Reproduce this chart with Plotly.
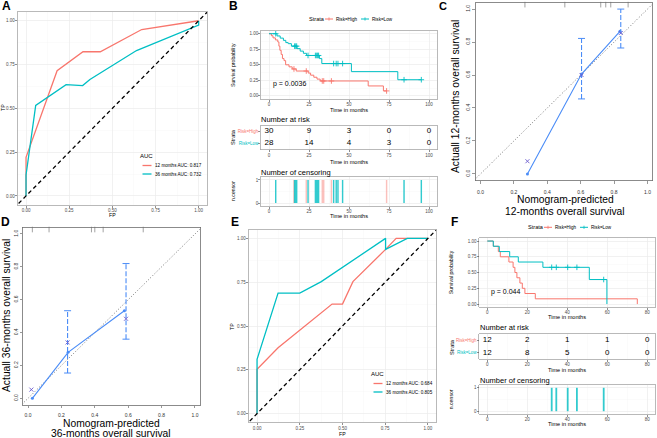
import plotly.graph_objects as go

W, H = 657, 438
FONT = "Liberation Sans"
RED, CYAN = "#F8766D", "#00BFC4"
BLUE, XMARK = "#4A8CF7", "#6A5ACD"

# ---------------- DATA ----------------
# Panel A: ROC (training)
a_fp_12 = [0, 0, 0.18, 0.33, 0.43, 0.67, 1.0]
a_tp_12 = [0, 0.22, 0.715, 0.823, 0.823, 0.95, 1.0]
a_fp_36 = [0, 0, 0.056, 0.232, 0.328, 0.37, 0.64, 1.0, 1.0]
a_tp_36 = [0, 0.12, 0.517, 0.635, 0.63, 0.665, 0.83, 0.975, 1.0]
a_labels = ["12 months AUC: 0.817", "36 months AUC: 0.732"]

# Panel E: ROC (validation)
e_fp_12 = [0, 0, 0.123, 0.439, 0.5, 0.561, 0.752, 0.814, 1.0]
e_tp_12 = [0, 0.253, 0.376, 0.625, 0.625, 0.753, 0.937, 1.0, 1.0]
e_fp_36 = [0, 0, 0.123, 0.25, 0.376, 0.752, 0.752, 0.879, 1.0]
e_tp_36 = [0, 0.31, 0.688, 0.688, 0.753, 1.0, 0.937, 1.0, 1.0]
e_labels = ["12 months AUC: 0.684", "36 months AUC: 0.805"]

# Panel B: Kaplan-Meier (training)
b_high_t = [0, 1.5, 2.5, 4, 5.5, 6.2, 6.8, 7.6, 8.4, 9.4, 10.4, 12.5, 14.5, 17, 24.5, 26, 28, 30, 32, 62, 71.5, 73.5]
b_high_s = [1.0, 0.967, 0.933, 0.90, 0.867, 0.80, 0.733, 0.667, 0.60, 0.567, 0.50, 0.467, 0.433, 0.40, 0.367, 0.333, 0.30, 0.27, 0.24, 0.16, 0.08, 0.08]
b_low_t = [0, 5, 7, 9, 10.5, 12, 14, 17.5, 19.5, 21.5, 23.5, 31.5, 33, 51.5, 80.5, 95.2]
b_low_s = [1.0, 0.964, 0.929, 0.893, 0.857, 0.84, 0.80, 0.76, 0.72, 0.685, 0.65, 0.60, 0.52, 0.39, 0.26, 0.26]
b_high_cens = [15.6, 23.3, 33.3, 34.2, 39.0, 73.5]
b_low_cens = [4.2, 16.0, 16.7, 17.3, 24.4, 29.0, 29.8, 30.4, 31.0, 40.4, 42.0, 43.1, 46.0, 84.4, 95.2]
b_risk_times = [0, 25, 50, 75, 100]
b_risk_high = [30, 9, 3, 0, 0]
b_risk_low = [28, 14, 4, 3, 0]
b_pval = "p = 0.0036"

# Panel F: Kaplan-Meier (validation)
f_high_t = [0, 3.0, 5.5, 6.5, 10.8, 12.9, 13.8, 14.8, 16.3, 17.5, 18.8, 24.0, 75.0]
f_high_s = [1.0, 0.917, 0.833, 0.75, 0.667, 0.583, 0.5, 0.417, 0.333, 0.25, 0.167, 0.083, 0.0]
f_low_t = [0, 3.0, 6.0, 11.2, 15.5, 27.8, 51.0, 59.8]
f_low_s = [1.0, 0.917, 0.833, 0.75, 0.667, 0.583, 0.389, 0.0]
f_high_cens = []
f_low_cens = [32.2, 34.5, 40.2, 44.8, 58.2]
f_risk_times = [0, 20, 40, 60, 80]
f_risk_high = [12, 2, 1, 1, 0]
f_risk_low = [12, 8, 5, 0, 0]
f_pval = "p = 0.044"

# Panel C: calibration 12 months
c_pred = [0.281, 0.605, 0.835]
c_obs = [0.0, 0.606, 0.865]
c_err_x = [0.605, 0.84]
c_err_lo = [0.455, 0.764]
c_err_hi = [0.822, 1.0]
c_bc_x = [0.281, 0.605, 0.84]
c_bc_y = [0.077, 0.60, 0.855]
c_rug = [0.266, 0.505, 0.72, 0.75, 0.78, 0.884]

# Panel D: calibration 36 months
d_pred = [0.026, 0.24, 0.577]
d_obs = [0.0, 0.28, 0.533]
d_err_x = [0.237, 0.587]
d_err_lo = [0.154, 0.36]
d_err_hi = [0.533, 0.82]
d_bc_x = [0.02, 0.237, 0.587]
d_bc_y = [0.053, 0.34, 0.484]
d_rug = [0.026, 0.126, 0.38, 0.40, 0.45, 0.69]


def surv_at(t, times, surv):
    s = surv[0]
    for ti, si in zip(times, surv):
        if ti <= t:
            s = si
    return s


def dx(l, r):
    return [l / W, r / W]


def dy(t, b):
    return [1 - b / H, 1 - t / H]


def gg_axis(dom, rng, vals, texts, anchor, minor=None, grid=True, **kw):
    d = dict(domain=dom, range=rng, tickmode="array", tickvals=vals, ticktext=texts,
             showline=True, mirror=True, linecolor="#A8A8A8", linewidth=0.8,
             ticks="outside", ticklen=2, tickwidth=0.6, tickcolor="#444444",
             tickfont=dict(family=FONT, size=4.5, color="#4D4D4D"),
             showgrid=grid, gridcolor="#EBEBEB", gridwidth=0.6, zeroline=False,
             anchor=anchor, fixedrange=True, ticklabelstandoff=-1)
    if minor:
        d["minor"] = dict(tickmode="linear", tick0=0, dtick=minor, showgrid=True,
                          gridcolor="#F5F5F5", gridwidth=0.4, ticks="")
    d.update(kw)
    return d


def base_axis(dom, rng, vals, texts, anchor, **kw):
    d = dict(domain=dom, range=rng, tickmode="array", tickvals=vals, ticktext=texts,
             showline=True, mirror=True, linecolor="#6E6E6E", linewidth=0.8,
             ticks="outside", ticklen=2.5, tickwidth=0.6, tickcolor="#555555",
             tickfont=dict(family=FONT, size=5, color="#333333"),
             showgrid=False, zeroline=False, anchor=anchor, fixedrange=True)
    d.update(kw)
    return d


fig = go.Figure()
ann = []
shapes = []


def txt(x, y, s, size, color="#000000", xanchor="center", angle=0, bold=False):
    if bold:
        s = "<b>" + s + "</b>"
    ann.append(dict(x=x / W, y=1 - y / H, xref="paper", yref="paper", text=s,
                    showarrow=False, font=dict(size=size, color=color, family=FONT),
                    xanchor=xanchor, yanchor="middle", textangle=angle, borderpad=0))


def seg(x0, x1, y0, y1, color, w=1.0):
    shapes.append(dict(type="line", xref="paper", yref="paper", x0=x0 / W, x1=x1 / W,
                       y0=1 - y0 / H, y1=1 - y1 / H, line=dict(color=color, width=w)))


# ---------- ROC panels ----------
def roc(ax, fp12, tp12, fp36, tp36):
    xa, ya = ("x", "y") if ax == 1 else ("x%d" % ax, "y%d" % ax)
    fig.add_trace(go.Scatter(x=fp12, y=tp12, mode="lines", line=dict(color=RED, width=1.3),
                             xaxis=xa, yaxis=ya, showlegend=False, hoverinfo="skip"))
    fig.add_trace(go.Scatter(x=fp36, y=tp36, mode="lines", line=dict(color=CYAN, width=1.3),
                             xaxis=xa, yaxis=ya, showlegend=False, hoverinfo="skip"))
    fig.add_trace(go.Scatter(x=[-0.1, 1.1], y=[-0.1, 1.1], mode="lines",
                             line=dict(color="black", width=1.3, dash="4px,3px"),
                             xaxis=xa, yaxis=ya, showlegend=False, hoverinfo="skip"))


roc(1, a_fp_12, a_tp_12, a_fp_36, a_tp_36)
roc(7, e_fp_12, e_tp_12, e_fp_36, e_tp_36)

# ---------- KM panels ----------
def km(ax, ht, hs, lt, ls, hc, lc):
    xa, ya = "x%d" % ax, "y%d" % ax
    for t, s, c, col in ((ht, hs, hc, RED), (lt, ls, lc, CYAN)):
        fig.add_trace(go.Scatter(x=t, y=s, mode="lines", line=dict(color=col, width=1.0, shape="hv"),
                                 xaxis=xa, yaxis=ya, showlegend=False, hoverinfo="skip"))
        if c:
            fig.add_trace(go.Scatter(x=c, y=[surv_at(v, t, s) for v in c], mode="markers",
                                     marker=dict(symbol="cross-thin", size=4, line=dict(color=col, width=0.9)),
                                     xaxis=xa, yaxis=ya, showlegend=False, hoverinfo="skip"))


def risk(ax, times, high, low):
    xa, ya = "x%d" % ax, "y%d" % ax
    fig.add_trace(go.Scatter(x=times + times, y=[2] * len(times) + [1] * len(times),
                             text=[str(v) for v in high + low], mode="text",
                             textfont=dict(family=FONT, size=8, color="black"),
                             xaxis=xa, yaxis=ya, showlegend=False, hoverinfo="skip", cliponaxis=False))


def cens(ax, hc, lc, width):
    xa, ya = "x%d" % ax, "y%d" % ax
    if hc:
        fig.add_trace(go.Bar(x=hc, y=[1] * len(hc), width=width, marker=dict(color=RED, line=dict(width=0)),
                             opacity=0.45, xaxis=xa, yaxis=ya, showlegend=False, hoverinfo="skip"))
    if lc:
        fig.add_trace(go.Bar(x=lc, y=[1] * len(lc), width=width, marker=dict(color=CYAN, line=dict(width=0)),
                             opacity=0.8, xaxis=xa, yaxis=ya, showlegend=False, hoverinfo="skip"))


km(2, b_high_t, b_high_s, b_low_t, b_low_s, b_high_cens, b_low_cens)
risk(3, b_risk_times, b_risk_high, b_risk_low)
cens(4, b_high_cens, b_low_cens, 0.9)
km(8, f_high_t, f_high_s, f_low_t, f_low_s, f_high_cens, f_low_cens)
risk(9, f_risk_times, f_risk_high, f_risk_low)
cens(10, f_high_cens, f_low_cens, 0.9)

# ---------- calibration panels ----------
def calib(ax, pred, obs, ex, elo, ehi, bx, by, rug):
    xa, ya = "x%d" % ax, "y%d" % ax
    fig.add_trace(go.Scatter(x=[-0.1, 1.1], y=[-0.1, 1.1], mode="lines",
                             line=dict(color="#555555", width=0.8, dash="1px,2px"),
                             xaxis=xa, yaxis=ya, showlegend=False, hoverinfo="skip"))
    ex_l, ey_l = [], []
    for x, lo, hi in zip(ex, elo, ehi):
        ex_l += [x, x, None]
        ey_l += [lo, hi, None]
    fig.add_trace(go.Scatter(x=ex_l, y=ey_l, mode="lines",
                             line=dict(color=BLUE, width=1.1, dash="5px,2px"),
                             xaxis=xa, yaxis=ya, showlegend=False, hoverinfo="skip"))
    fig.add_trace(go.Scatter(x=ex + ex, y=elo + ehi, mode="markers",
                             marker=dict(symbol="line-ew", size=5, line=dict(color=BLUE, width=1)),
                             xaxis=xa, yaxis=ya, showlegend=False, hoverinfo="skip", cliponaxis=False))
    fig.add_trace(go.Scatter(x=pred, y=obs, mode="lines+markers",
                             line=dict(color=BLUE, width=1.1), marker=dict(size=3, color=BLUE),
                             xaxis=xa, yaxis=ya, showlegend=False, hoverinfo="skip", cliponaxis=False))
    fig.add_trace(go.Scatter(x=bx, y=by, mode="markers",
                             marker=dict(symbol="x-thin", size=4, line=dict(color=XMARK, width=0.9)),
                             xaxis=xa, yaxis=ya, showlegend=False, hoverinfo="skip", cliponaxis=False))
    fig.add_trace(go.Scatter(x=rug, y=[1.027] * len(rug), mode="markers",
                             marker=dict(symbol="line-ns", size=4, line=dict(color="#8A8A8A", width=0.8)),
                             xaxis=xa, yaxis=ya, showlegend=False, hoverinfo="skip", cliponaxis=False))


calib(5, c_pred, c_obs, c_err_x, c_err_lo, c_err_hi, c_bc_x, c_bc_y, c_rug)
calib(6, d_pred, d_obs, d_err_x, d_err_lo, d_err_hi, d_bc_x, d_bc_y, d_rug)

# ---------- axes ----------
roc_vals = [0, 0.25, 0.5, 0.75, 1.0]
roc_txt = ["0.00", "0.25", "0.50", "0.75", "1.00"]
cal_vals = [0, 0.2, 0.4, 0.6, 0.8, 1.0]
cal_txt = ["0.0", "0.2", "0.4", "0.6", "0.8", "1.0"]
lay = {}
# A
lay["xaxis"] = gg_axis(dx(17.4, 207.3), [-0.05, 1.05], roc_vals, roc_txt, "y", minor=0.125)
lay["yaxis"] = gg_axis(dy(12, 204.7), [-0.05, 1.05], roc_vals, roc_txt, "x", minor=0.125)
# E
lay["xaxis7"] = gg_axis(dx(248.5, 436.5), [-0.05, 1.05], roc_vals, roc_txt, "y7", minor=0.125)
lay["yaxis7"] = gg_axis(dy(229.6, 422.4), [-0.05, 1.05], roc_vals, roc_txt, "x7", minor=0.125)
# B
bx_vals = b_risk_times
bx_txt = [str(v) for v in bx_vals]
km_vals = [0, 0.25, 0.5, 0.75, 1.0]
lay["xaxis2"] = gg_axis(dx(261, 437), [-5, 105], bx_vals, bx_txt, "y2", minor=12.5)
lay["yaxis2"] = gg_axis(dy(30.6, 99), [-0.05, 1.05], km_vals, roc_txt, "x2", minor=0.125)
strata_txt = ['<span style="color:%s">Risk=Low</span>' % CYAN, '<span style="color:%s">Risk=High</span>' % RED]
lay["xaxis3"] = gg_axis(dx(261, 437), [-5, 105], bx_vals, bx_txt, "y3", minor=12.5)
lay["yaxis3"] = gg_axis(dy(125.5, 149.5), [0.45, 2.5], [1, 2], strata_txt, "x3", grid=False)
lay["xaxis4"] = gg_axis(dx(261, 437), [-5, 105], bx_vals, bx_txt, "y4", minor=12.5)
lay["yaxis4"] = gg_axis(dy(177, 206), [-0.13, 1.13], [0, 1], ["0", "1"], "x4", minor=0.5)
# F
fx_vals = f_risk_times
fx_txt = [str(v) for v in fx_vals]
lay["xaxis8"] = gg_axis(dx(479.3, 655.3), [-4, 84], fx_vals, fx_txt, "y8", minor=10)
lay["yaxis8"] = gg_axis(dy(237.9, 307.2), [-0.05, 1.05], km_vals, roc_txt, "x8", minor=0.125)
lay["xaxis9"] = gg_axis(dx(479.3, 655.3), [-4, 84], fx_vals, fx_txt, "y9", minor=10)
lay["yaxis9"] = gg_axis(dy(334.3, 359), [0.5, 2.5], [1, 2], strata_txt, "x9", grid=False)
lay["xaxis10"] = gg_axis(dx(479.3, 655.3), [-4, 84], fx_vals, fx_txt, "y10", minor=10)
lay["yaxis10"] = gg_axis(dy(385, 414), [-0.12, 1.12], [0, 1], ["0", "1"], "x10", minor=0.5)
# C, D
lay["xaxis5"] = base_axis(dx(475.5, 652.5), [-0.03, 1.03], cal_vals, cal_txt, "y5", ticklabelstandoff=4)
lay["yaxis5"] = base_axis(dy(2.5, 180.5), [-0.04, 1.04], cal_vals, cal_txt, "x5", tickangle=-90, ticklabelstandoff=0)
lay["xaxis6"] = base_axis(dx(23, 200), [-0.03, 1.03], cal_vals, cal_txt, "y6", ticklabelstandoff=3)
lay["yaxis6"] = base_axis(dy(227.4, 404.9), [-0.04, 1.04], cal_vals, cal_txt, "x6", tickangle=-90, ticklabelstandoff=0)

# ---------- text ----------
# panel letters
txt(0.5, 6.5, "A", 12, xanchor="left", bold=True)
txt(227.5, 6.5, "B", 12, xanchor="left", bold=True)
txt(437.5, 6, "C", 11, xanchor="left", bold=True)
txt(0, 222, "D", 12, xanchor="left", bold=True)
txt(229.5, 222.5, "E", 12, xanchor="left", bold=True)
txt(449.5, 222.5, "F", 12, xanchor="left", bold=True)

# ROC axis titles + legends
for (fpx, fpy, tpx, tpy, lx, ly, labels) in ((112, 215, 3, 108, 139, 156, a_labels),
                                              (342, 433.8, 232, 327, 370, 374, e_labels)):
    txt(fpx, fpy, "FP", 5.2)
    txt(tpx, tpy, "TP", 5.2, angle=-90)
    txt(lx, ly, "AUC", 6, xanchor="left")
    seg(lx + 3.5, lx + 12.5, ly + 9.5, ly + 9.5, RED, 1.3)
    seg(lx + 3.5, lx + 12.5, ly + 18, ly + 18, CYAN, 1.3)
    txt(lx + 14.5, ly + 9.5, labels[0], 4.6, xanchor="left")
    txt(lx + 14.5, ly + 18, labels[1], 4.6, xanchor="left")

# KM titles and legends
for (cx, lx, ylab_x, y_leg, y_km_t, y_km_c, y_risk_title, y_risk_t, y_strata, y_cens_title, y_cens_t,
     y_ncens, pvx, pvy, pv, legx) in (
        (349, 260, 233, 19, 109.5, 65, 119, 162, 137, 173, 216, 191, 272, 84.3, b_pval, 308),
        (567, 478.5, 451.3, 227.3, 317, 272, 327.7, 369.5, 346.7, 380, 424, 399, 489.7, 292.3, f_pval, 527)):
    txt(cx, y_km_t, "Time in months", 5.6)
    txt(cx, y_risk_t, "Time in months", 5.6)
    txt(cx, y_cens_t, "Time in months", 5.6)
    txt(ylab_x, y_km_c, "Survival probability", 5.2, angle=-90)
    txt(ylab_x, y_strata, "Strata", 5.6, angle=-90)
    txt(ylab_x, y_ncens, "n.censor", 5.2, angle=-90)
    txt(lx, y_risk_title, "Number at risk", 7.5, xanchor="left")
    txt(lx, y_cens_title, "Number of censoring", 7.5, xanchor="left")
    txt(pvx, pvy, pv, 7, xanchor="left")
    txt(legx, y_leg, "Strata", 5.6, xanchor="left")
    seg(legx + 17, legx + 25, y_leg, y_leg, RED, 1.0)
    seg(legx + 21, legx + 21, y_leg - 1.6, y_leg + 1.6, RED, 0.8)
    txt(legx + 27, y_leg, "Risk=High", 4.6, xanchor="left")
    seg(legx + 53, legx + 61, y_leg, y_leg, CYAN, 1.0)
    seg(legx + 57, legx + 57, y_leg - 1.6, y_leg + 1.6, CYAN, 0.8)
    txt(legx + 63, y_leg, "Risk=Low", 4.6, xanchor="left")

# calibration titles
txt(456, 97, "Actuall 12-months overall survival", 10.3, angle=-90)
txt(565, 199.8, "Nomogram-predicted", 10.3)
txt(565, 211, "12-months overall survival", 10.3)
txt(6, 316, "Actuall 36-months overall survival", 10.3, angle=-90)
txt(111, 423.4, "Nomogram-predicted", 10.3)
txt(111, 433.6, "36-months overall survival", 10.3)

fig.update_layout(width=W, height=H, margin=dict(l=0, r=0, t=0, b=0), autosize=False,
                  paper_bgcolor="white", plot_bgcolor="white", barmode="overlay",
                  showlegend=False, annotations=ann, shapes=shapes,
                  font=dict(family=FONT), **lay)
fig.write_html("out.html", config={"displayModeBar": False, "staticPlot": True},
               post_script="document.body.style.margin='0px';document.body.style.overflow='hidden';")
